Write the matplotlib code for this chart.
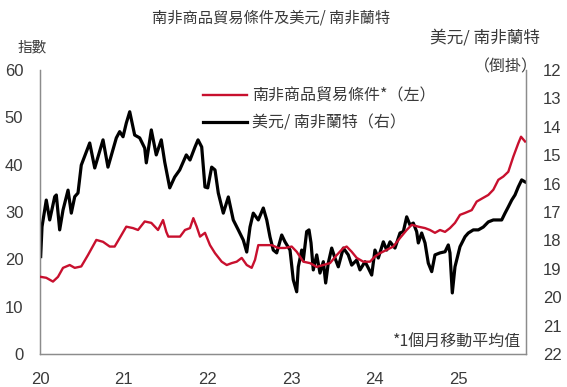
import matplotlib
matplotlib.use("Agg")
import numpy as np
from matplotlib import pyplot as plt
from matplotlib.lines import Line2D

plt.rcParams['font.family'] = ['Noto Sans CJK TC', 'DejaVu Sans']

# years since 2020 (decimal)
t_tot = [0.008, 0.075, 0.155, 0.215, 0.275, 0.355, 0.415, 0.493, 0.573, 0.673,
         0.753, 0.833, 0.892, 0.952, 1.031, 1.111, 1.171, 1.251, 1.330, 1.410,
         1.470, 1.509, 1.533, 1.593, 1.673, 1.732, 1.792, 1.832, 1.872, 1.912,
         1.971, 2.031, 2.091, 2.171, 2.231, 2.290, 2.350, 2.410, 2.470, 2.529,
         2.569, 2.608, 2.688, 2.768, 2.847, 2.927, 3.007, 3.067, 3.146, 3.226,
         3.306, 3.385, 3.465, 3.545, 3.624, 3.664, 3.724, 3.784, 3.863, 3.943,
         4.002, 4.062, 4.142, 4.221, 4.301, 4.381, 4.441, 4.520, 4.600, 4.659,
         4.719, 4.779, 4.839, 4.898, 4.958, 5.018, 5.078, 5.158, 5.217, 5.296,
         5.356, 5.416, 5.476, 5.536, 5.595, 5.655, 5.714, 5.747, 5.795]
tot = [16.3, 16.1, 15.3, 16.3, 18.2, 18.8, 18.2, 18.5, 20.9, 24.1,
       23.7, 22.7, 22.7, 24.5, 26.9, 26.6, 26.2, 28.0, 27.7, 26.2,
       28.3, 25.8, 24.8, 24.8, 24.8, 26.2, 26.6, 28.7, 26.9, 24.8,
       25.6, 23.0, 21.3, 19.5, 18.8, 19.2, 19.5, 20.3, 18.8, 18.2,
       19.9, 23.0, 23.0, 23.0, 22.4, 22.4, 22.7, 21.6, 19.5, 19.2,
       18.4, 18.8, 19.2, 20.9, 22.4, 22.7, 21.6, 20.3, 19.5, 19.5,
       20.6, 21.3, 22.0, 22.7, 24.5, 26.2, 27.3, 26.9, 26.6, 26.2,
       25.6, 26.2, 25.8, 26.6, 27.7, 29.4, 29.8, 30.4, 32.2, 33.0,
       33.6, 34.7, 36.8, 37.5, 38.5, 41.7, 44.5, 45.9, 44.9]

t_fx = [0.008, 0.024, 0.056, 0.075, 0.116, 0.176, 0.195, 0.235, 0.275, 0.335,
        0.374, 0.415, 0.454, 0.493, 0.594, 0.654, 0.753, 0.812, 0.912, 0.952,
        0.992, 1.031, 1.072, 1.131, 1.191, 1.251, 1.270, 1.330, 1.389, 1.449,
        1.490, 1.550, 1.609, 1.669, 1.748, 1.792, 1.852, 1.888, 1.932, 1.971,
        2.004, 2.051, 2.091, 2.130, 2.190, 2.250, 2.309, 2.369, 2.429, 2.470,
        2.509, 2.548, 2.608, 2.668, 2.709, 2.748, 2.787, 2.828, 2.888, 2.927,
        2.987, 3.026, 3.067, 3.086, 3.127, 3.146, 3.186, 3.214, 3.238, 3.265,
        3.306, 3.345, 3.385, 3.413, 3.444, 3.485, 3.524, 3.564, 3.624, 3.683,
        3.724, 3.784, 3.823, 3.883, 3.922, 3.963, 4.002, 4.042, 4.102, 4.142,
        4.182, 4.241, 4.301, 4.341, 4.381, 4.421, 4.460, 4.500, 4.520, 4.560,
        4.600, 4.639, 4.680, 4.719, 4.779, 4.839, 4.878, 4.898, 4.926, 4.958,
        5.018, 5.078, 5.117, 5.177, 5.237, 5.296, 5.356, 5.416, 5.476, 5.516,
        5.556, 5.595, 5.636, 5.675, 5.714, 5.755, 5.795]
usdzar = [18.57, 17.52, 16.93, 16.58, 17.28, 16.46, 16.40, 17.63, 16.93, 16.23,
          17.04, 16.46, 16.33, 15.35, 14.57, 15.45, 14.46, 15.42, 14.39, 14.17,
          14.35, 13.87, 13.47, 14.29, 14.39, 14.75, 15.27, 14.11, 14.99, 14.46,
          15.24, 16.15, 15.77, 15.52, 14.99, 15.17, 14.71, 14.46, 14.71, 16.12,
          16.15, 15.42, 15.52, 16.33, 17.04, 16.47, 17.28, 17.63, 17.99, 18.41,
          17.53, 17.04, 17.28, 16.86, 17.28, 17.88, 18.34, 18.44, 17.81, 18.05,
          18.34, 19.39, 19.81, 18.93, 18.34, 18.69, 17.69, 17.63, 18.09, 19.04,
          18.51, 19.15, 18.75, 19.50, 18.80, 18.27, 18.62, 18.93, 18.27, 18.51,
          18.87, 18.69, 19.04, 18.75, 18.97, 19.22, 18.34, 18.62, 18.05, 18.34,
          18.05, 18.27, 17.74, 17.69, 17.17, 17.46, 17.39, 17.69, 18.09, 17.74,
          18.09, 18.80, 19.10, 18.51, 18.44, 18.40, 18.16, 18.44, 19.85, 18.93,
          18.22, 17.87, 17.74, 17.63, 17.63, 17.53, 17.35, 17.28, 17.28, 17.28,
          17.04, 16.82, 16.58, 16.40, 16.12, 15.87, 15.94]

years = [2020, 2021, 2022, 2023, 2024, 2025]
year_labels = ['20', '21', '22', '23', '24', '25']

red = '#c8102e'
grey = '#3a3a3a'
spine_c = '#8c8c8c'

fig = plt.figure(figsize=(5.67, 3.87), dpi=100)
ax = fig.add_axes([40/567, 1-354/387, 486/567, 284/387])
ax2 = ax.twinx()

x_tot = 2020 + np.array(t_tot)
x_fx = 2020 + np.array(t_fx)
ax.plot(x_tot, tot, color=red, lw=1.7, zorder=3)
ax2.plot(x_fx, usdzar, color='black', lw=2.3, zorder=2)
ax.set_zorder(ax2.get_zorder() + 1)
ax.patch.set_visible(False)

ax.set_xlim(2020, 2020 + 486/83.7)
ax.set_ylim(0, 60)
ax2.set_ylim(22, 12)
ax.set_yticks(range(0, 61, 10))
ax2.set_yticks(range(12, 23))
ax.set_xticks(years)
ax.set_xticklabels(year_labels)

for a in (ax, ax2):
    a.spines['top'].set_visible(False)
    for s in ('left', 'right', 'bottom'):
        a.spines[s].set_color(spine_c)
        a.spines[s].set_linewidth(0.9)
    a.tick_params(length=0, labelsize=12, labelcolor=grey)
ax.tick_params(axis='y', pad=12)
ax2.tick_params(axis='y', pad=12)
ax.tick_params(axis='x', pad=13)
for lab in ax.get_xticklabels() + ax.get_yticklabels() + ax2.get_yticklabels():
    lab.set_family(['Liberation Sans', 'DejaVu Sans'])

fig.text(271/567, 1-18/387, '南非商品貿易條件及美元/ 南非蘭特', ha='center', va='center',
         fontsize=11, color=grey)
fig.text(32/567, 1-47/387, '指數', ha='center', va='center', fontsize=10.5, color=grey)
fig.text(485/567, 1-38/387, '美元/ 南非蘭特', ha='center', va='center', fontsize=12, color=grey)
fig.text(506/567, 1-67/387, '（倒掛）', ha='center', va='center', fontsize=11.5, color=grey)

handles = [Line2D([], [], color=red, lw=1.7), Line2D([], [], color='black', lw=2.3)]
ax.legend(handles, ['南非商品貿易條件*（左）', '美元/ 南非蘭特（右）'],
          loc='upper left', bbox_to_anchor=(0.305, 0.99), frameon=False,
          fontsize=11.5, handlelength=2.8, handletextpad=0.3, labelspacing=0.65,
          labelcolor=grey)

ax.text(0.99, 0.04, '*1個月移動平均值', transform=ax.transAxes, ha='right', va='center',
        fontsize=11.5, color=grey, style='italic')

fig.savefig('out.png', dpi=100)
